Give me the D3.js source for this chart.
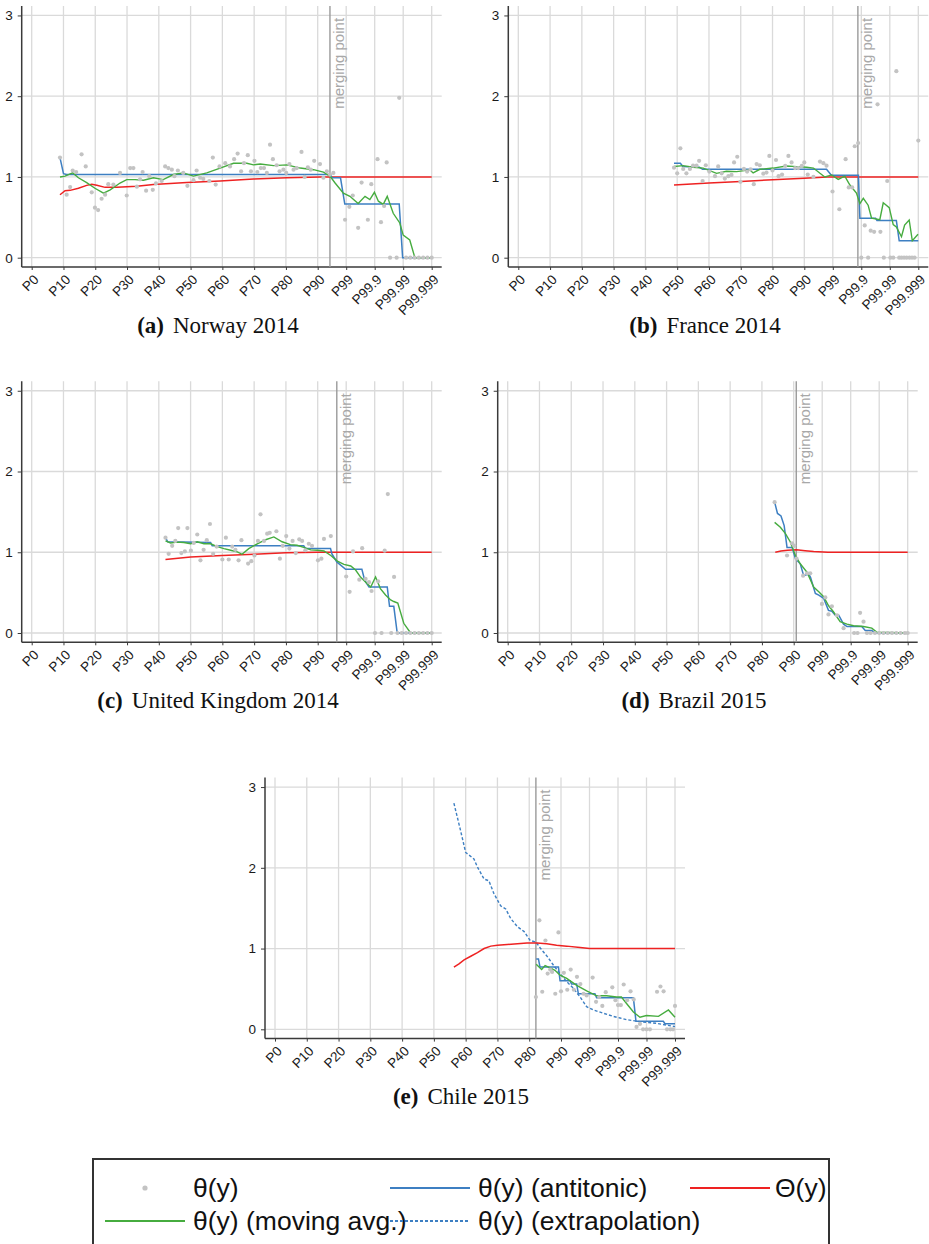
<!DOCTYPE html>
<html lang="en">
<head>
<meta charset="UTF-8">
<title>theta(y) by country</title>
<style>
  body { margin: 0; background: #fff; }
  text { font-family: "Liberation Sans", Arial, sans-serif; }
</style>
</head>
<body>
<div id="chart"></div>
<script src="https://cdn.jsdelivr.net/npm/d3@7/dist/d3.min.js"></script>
<script>
    const width = 929, height = 1244;

    // x positions are in axis units: 0 = P0 ... 9 = P90, 10 = P99, 11 = P99.9, 12 = P99.99, 13 = P99.999
    const tickLabels = ["P0", "P10", "P20", "P30", "P40", "P50", "P60", "P70", "P80", "P90",
        "P99", "P99.9", "P99.99", "P99.999"];
    const yTicks = [0, 1, 2, 3];

    // ---- Norway 2014
    const norwayDots = [[0.89,1.24],[1.10,0.78],[1.21,0.875],[1.29,1.08],[1.40,1.06],[1.57,1.28],[1.70,1.13],
        [1.89,0.81],[1.99,0.62],[2.09,0.59],[2.20,0.73],[2.31,0.78],[2.41,0.91],[2.57,0.905],[2.78,1.05],
        [2.99,0.77],[3.10,1.11],[3.20,1.11],[3.31,0.88],[3.41,0.97],[3.49,1.06],[3.60,0.83],[3.70,1.01],
        [3.81,0.84],[3.91,0.92],[4.09,0.95],[4.20,1.13],[4.30,1.11],[4.41,1.09],[4.49,1.01],[4.60,1.08],
        [4.77,1.05],[4.90,0.89],[5.09,0.96],[5.19,1.08],[5.30,0.99],[5.40,0.975],[5.59,0.95],[5.70,1.24],
        [5.79,0.905],[5.91,1.13],[6.09,1.17],[6.24,1.13],[6.37,1.22],[6.48,1.29],[6.59,1.07],[6.68,1.17],
        [6.80,1.27],[6.90,1.07],[7.01,1.20],[7.10,1.06],[7.21,1.11],[7.31,1.11],[7.40,1.05],[7.50,1.40],
        [7.59,1.22],[7.71,1.145],[7.80,1.07],[7.92,1.09],[8.01,1.05],[8.11,1.16],[8.24,1.09],[8.34,1.11],
        [8.49,1.31],[8.59,1.0],[8.69,1.12],[8.78,1.09],[8.89,1.20],[9.08,1.16],[9.20,0.99],[9.32,1.07],
        [9.43,1.03],[9.55,1.05],[9.96,0.47],[10.11,0.63],[10.23,0.77],[10.42,0.37],[10.54,0.93],
        [10.76,0.47],[10.88,0.91],[11.10,1.22],[11.22,0.44],[11.33,0.64],[11.42,1.18],[11.54,0],
        [11.77,0],[11.86,1.98],[12.1,0],[12.25,0],[12.4,0],[12.55,0],[12.7,0],[12.85,0],[13,0]];
    const norwayAvg = [[0.89,1.0],[1.05,1.01],[1.29,1.05],[1.47,0.99],[1.73,0.93],[1.99,0.86],[2.26,0.80],
        [2.47,0.84],[2.78,0.925],[2.99,0.967],[3.25,0.967],[3.52,0.96],[3.83,0.99],[4.14,0.967],[4.46,1.03],
        [4.77,1.05],[5.09,1.01],[5.51,1.05],[5.93,1.11],[6.35,1.17],[6.77,1.17],[6.98,1.15],[7.19,1.16],
        [7.61,1.14],[8.03,1.15],[8.45,1.11],[8.87,1.09],[9.20,1.06],[9.43,1.01],[9.61,0.925],[9.90,0.80],
        [10.13,0.76],[10.42,0.67],[10.66,0.76],[10.83,0.72],[10.99,0.81],[11.13,0.70],[11.30,0.66],
        [11.44,0.76],[11.65,0.55],[11.88,0.43],[12.0,0.28],[12.23,0.22],[12.41,0],[13,0]];
    const norwayAnti = [[0.89,1.24],[1.0,1.04],[1.1,1.03],[9.45,1.03],[9.5,0.99],[9.8,0.99],[9.95,0.665],
        [11.86,0.665],[11.98,0],[13,0]];
    const norwayTheta = [[0.89,0.78],[1.05,0.83],[1.21,0.834],[1.47,0.86],[1.73,0.896],[1.89,0.91],
        [2.05,0.896],[2.31,0.871],[2.68,0.871],[3.31,0.884],[3.83,0.905],[4.88,0.93],[5.93,0.95],
        [6.98,0.975],[8.03,0.99],[9.08,1.0],[13,1.0]];
    const norwayMerge = 9.43;

    // ---- France 2014
    const franceDots = [[4.9,1.115],[5.0,1.045],[5.1,1.355],[5.19,1.10],[5.29,1.045],[5.4,1.10],[5.5,1.14],
        [5.61,1.14],[5.69,1.20],[5.8,0.95],[5.9,1.145],[6.01,1.066],[6.19,1.01],[6.29,1.13],[6.4,1.045],
        [6.5,0.98],[6.61,1.01],[6.71,1.025],[6.79,1.18],[6.89,1.25],[6.99,0.94],[7.1,1.10],[7.2,1.066],
        [7.31,1.095],[7.41,0.91],[7.5,1.16],[7.6,1.145],[7.71,1.04],[7.81,1.054],[7.9,1.26],[8.0,1.08],
        [8.11,1.21],[8.19,1.01],[8.3,1.03],[8.4,1.136],[8.5,1.26],[8.6,1.18],[8.71,1.11],[8.81,1.11],
        [8.92,1.136],[9.0,1.18],[9.12,1.03],[9.32,1.0],[9.55,1.19],[9.67,1.17],[9.78,1.14],[9.99,0.82],
        [10.23,0.60],[10.45,1.22],[10.56,0.87],[10.68,0.87],[10.77,1.38],[10.89,1.42],[11.0,0],[11.12,0.40],
        [11.24,0],[11.33,0.335],[11.45,0.32],[11.57,1.90],[11.67,0.32],[11.79,0],[11.91,0.95],[12.02,0],
        [12.12,0],[12.23,2.31],[12.33,0],[12.41,0],[12.5,0],[12.59,0],[12.69,0],[12.78,0],[12.87,0],
        [13.0,1.45]];
    const franceAvg = [[4.9,1.13],[5.19,1.14],[5.5,1.12],[5.82,1.11],[6.24,1.045],[6.55,1.07],[6.87,1.066],
        [7.29,1.087],[7.39,1.05],[7.6,1.095],[8.02,1.11],[8.44,1.136],[8.76,1.128],[9.08,1.12],[9.32,1.11],
        [9.55,1.045],[9.72,1.0],[9.96,1.025],[10.19,0.97],[10.42,1.01],[10.6,0.90],[10.83,0.80],[10.95,0.67],
        [11.07,0.735],[11.24,0.65],[11.36,0.49],[11.65,0.47],[11.77,0.68],[11.98,0.62],[12.12,0.41],
        [12.23,0.38],[12.41,0.26],[12.52,0.405],[12.68,0.467],[12.79,0.21],[12.99,0.29]];
    const franceAnti = [[4.9,1.17],[5.1,1.17],[5.18,1.13],[5.7,1.12],[5.8,1.095],[9.78,1.095],[9.95,1.02],
        [10.9,1.02],[10.95,0.49],[11.5,0.49],[11.55,0.46],[12.23,0.46],[12.33,0.21],[13,0.21]];
    const franceTheta = [[4.9,0.90],[6,0.925],[7,0.945],[8,0.965],[9,0.985],[9.8,1.0],[13,1.0]];
    const franceMerge = 10.88;

    // ---- United Kingdom 2014
    const ukDots = [[4.21,1.18],[4.31,0.98],[4.42,1.08],[4.52,1.14],[4.61,1.30],[4.71,0.99],[4.82,1.01],
        [4.9,1.30],[5.01,1.02],[5.1,1.115],[5.21,1.22],[5.31,0.90],[5.41,1.03],[5.51,1.15],[5.61,1.35],
        [5.71,0.98],[5.82,1.07],[6.0,0.91],[6.11,1.18],[6.2,0.91],[6.31,1.07],[6.41,1.03],[6.51,0.90],
        [6.6,1.15],[6.81,0.86],[6.91,0.89],[7.01,0.96],[7.12,1.14],[7.2,1.47],[7.31,1.14],[7.41,1.23],
        [7.49,1.24],[7.7,1.26],[7.81,0.92],[7.9,1.08],[8.01,1.20],[8.11,1.045],[8.21,1.14],[8.31,0.99],
        [8.42,1.16],[8.51,1.14],[8.61,1.025],[8.72,1.105],[8.82,1.08],[9.01,0.90],[9.13,0.92],[9.22,1.165],
        [9.46,1.20],[10.0,0.70],[10.12,0.51],[10.24,1.01],[10.46,0.66],[10.56,1.05],[10.68,0.67],[10.8,0.63],
        [10.89,0.52],[11.01,0],[11.12,0.64],[11.24,0],[11.35,1.02],[11.46,1.72],[11.58,0],[11.68,0.695],
        [11.8,0],[11.95,0],[12.1,0],[12.25,0],[12.4,0],[12.55,0],[12.7,0],[12.85,0],[13,0]];
    const ukAvg = [[4.21,1.14],[4.37,1.115],[4.58,1.125],[4.79,1.12],[5.0,1.105],[5.21,1.13],[5.42,1.105],
        [5.63,1.105],[5.84,1.07],[6.05,1.045],[6.26,1.025],[6.47,1.005],[6.62,0.975],[6.83,1.045],
        [7.1,1.105],[7.36,1.155],[7.62,1.19],[7.88,1.13],[8.14,1.095],[8.35,1.086],[8.56,1.06],[8.78,1.03],
        [8.99,1.025],[9.22,1.016],[9.46,0.96],[9.69,0.89],[9.92,0.85],[10.16,0.83],[10.33,0.78],[10.51,0.69],
        [10.74,0.61],[10.86,0.57],[11.03,0.695],[11.2,0.55],[11.38,0.47],[11.56,0.41],[11.67,0.39],
        [11.81,0.37],[12.02,0.12],[12.14,0.06],[12.26,0],[13,0]];
    const ukAnti = [[4.21,1.18],[4.28,1.13],[5.63,1.12],[5.68,1.08],[8.56,1.08],[8.62,1.045],[9.45,1.045],
        [9.5,0.98],[9.67,0.88],[9.98,0.79],[10.55,0.79],[10.65,0.65],[10.8,0.57],[11.44,0.57],[11.52,0.33],
        [11.67,0.33],[11.79,0],[13,0]];
    const ukTheta = [[4.21,0.91],[5,0.94],[6,0.96],[7,0.975],[8,0.995],[9,1.0],[13,1.0]];
    const ukMerge = 9.67;

    // ---- Brazil 2015
    const brazilDots = [[8.4,1.62],[8.79,0.96],[8.95,1.11],[9.02,1.08],[9.1,0.92],[9.33,0.71],[9.47,0.74],
        [9.58,0.74],[9.99,0.36],[10.11,0.44],[10.22,0.23],[10.34,0.33],[10.52,0.22],[10.75,0.06],[11.12,0],
        [11.24,0],[11.33,0.25],[11.45,0.14],[11.57,0],[11.7,0],[11.85,0],[12.0,0],[12.15,0],[12.3,0],
        [12.45,0],[12.6,0],[12.75,0],[12.9,0],[13,0]];
    const brazilAvg = [[8.4,1.37],[8.58,1.31],[8.74,1.23],[8.89,1.13],[9.06,0.96],[9.23,0.857],[9.47,0.75],
        [9.7,0.57],[9.88,0.51],[10.05,0.45],[10.22,0.34],[10.4,0.26],[10.63,0.14],[10.87,0.11],[11.1,0.09],
        [11.45,0.08],[11.74,0.06],[11.92,0.01],[13,0]];
    const brazilAnti = [[8.4,1.62],[8.49,1.48],[8.6,1.45],[8.7,1.33],[8.79,1.06],[8.95,1.06],[9.06,0.92],
        [9.23,0.857],[9.35,0.71],[9.53,0.73],[9.59,0.69],[9.76,0.49],[9.88,0.47],[10.05,0.43],[10.22,0.28],
        [10.34,0.27],[10.46,0.22],[10.58,0.22],[10.75,0.11],[10.87,0.08],[11.39,0.08],[11.51,0.03],
        [11.74,0.03],[11.86,0],[13,0]];
    const brazilTheta = [[8.42,1.0],[8.6,1.015],[8.8,1.025],[9.1,1.03],[9.4,1.02],[9.7,1.008],[10.2,1.0],[13,1.0]];
    const brazilMerge = 9.09;

    // ---- Chile 2015
    const chileDots = [[8.21,0.40],[8.32,1.35],[8.41,0.465],[8.51,1.10],[8.58,0.69],[8.66,0.74],[8.72,0.71],
        [8.82,0.44],[8.92,1.20],[9.0,0.47],[9.1,0.70],[9.22,0.49],[9.34,0.74],[9.45,0.49],[9.56,0.65],
        [9.68,0.56],[9.79,0.44],[9.9,0.42],[10.11,0.64],[10.23,0.34],[10.34,0.40],[10.45,0.29],[10.57,0.46],
        [10.8,0.52],[10.91,0.36],[11.0,0.30],[11.1,0.30],[11.2,0.555],[11.32,0.36],[11.44,0.47],[11.55,0.37],
        [11.65,0.03],[11.77,0.066],[11.88,0],[12.0,0],[12.12,0],[12.37,0.465],[12.49,0.53],[12.6,0.47],
        [12.72,0],[12.84,0],[12.93,0],[13.0,0.29]];
    const chileAvg = [[8.22,0.805],[8.39,0.74],[8.5,0.79],[8.66,0.76],[8.81,0.73],[8.97,0.67],[9.2,0.63],
        [9.55,0.545],[9.9,0.475],[10.25,0.415],[10.6,0.415],[10.95,0.40],[11.12,0.40],[11.3,0.32],
        [11.54,0.215],[11.77,0.15],[12.0,0.17],[12.42,0.16],[12.77,0.24],[13,0.15]];
    const chileAnti = [[8.22,0.87],[8.29,0.87],[8.34,0.77],[8.92,0.77],[8.97,0.60],[9.32,0.60],[9.37,0.56],
        [9.55,0.56],[9.61,0.44],[10.19,0.44],[10.25,0.39],[11.54,0.39],[11.63,0.10],[12.59,0.10],[12.65,0.07],
        [13,0.07]];
    const chileTheta = [[5.63,0.77],[5.79,0.81],[5.95,0.86],[6.16,0.905],[6.37,0.95],[6.58,1.0],[6.79,1.03],
        [7.0,1.04],[7.31,1.05],[7.63,1.06],[7.93,1.07],[8.24,1.07],[8.55,1.06],[8.86,1.04],[9.2,1.03],
        [9.67,1.012],[10.0,1.0],[13,1.0]];
    const chileExtrap = [[5.63,2.80],[5.84,2.46],[6.0,2.19],[6.26,2.11],[6.37,2.01],[6.58,1.86],[6.73,1.84],
        [6.89,1.68],[7.1,1.53],[7.26,1.49],[7.42,1.37],[7.63,1.27],[7.84,1.21],[8.03,1.10],[8.21,1.08],
        [8.36,1.0],[8.57,0.90],[8.77,0.79],[8.97,0.69],[9.2,0.59],[9.43,0.51],[9.67,0.40],[9.9,0.28],
        [10.13,0.24],[10.48,0.20],[10.83,0.16],[11.07,0.14],[11.3,0.12],[11.77,0.095],[12.35,0.074],[13.0,0.033]];
    const chileMerge = 8.21;

    const legendLabels = ["θ(y)", "θ(y) (antitonic)", "Θ(y)", "θ(y) (moving avg.)", "θ(y) (extrapolation)"];

    const colors = {dot: "#c3c3c3", anti: "#3d7fc2", theta: "#ee2222", avg: "#46ac3f", grid: "#dadada", axis: "#3a3a3a"};

    const panels = [
        {tag: "(a)", name: "Norway 2014", ox: 31.7, oy: 257.7, capX: 218, capY: 333,
            dots: norwayDots, avg: norwayAvg, anti: norwayAnti, theta: norwayTheta, merge: norwayMerge},
        {tag: "(b)", name: "France 2014", ox: 518.3, oy: 257.7, capX: 705, capY: 333,
            dots: franceDots, avg: franceAvg, anti: franceAnti, theta: franceTheta, merge: franceMerge},
        {tag: "(c)", name: "United Kingdom 2014", ox: 31.7, oy: 633, capX: 218, capY: 708,
            dots: ukDots, avg: ukAvg, anti: ukAnti, theta: ukTheta, merge: ukMerge},
        {tag: "(d)", name: "Brazil 2015", ox: 507.7, oy: 633, capX: 694, capY: 708,
            dots: brazilDots, avg: brazilAvg, anti: brazilAnti, theta: brazilTheta, merge: brazilMerge},
        {tag: "(e)", name: "Chile 2015", ox: 275, oy: 1029.3, capX: 461, capY: 1104,
            dots: chileDots, avg: chileAvg, anti: chileAnti, theta: chileTheta, merge: chileMerge,
            extrap: chileExtrap}
    ];

    const svg = d3.select("#chart")
        .append("svg")
        .attr("width", width)
        .attr("height", height)
        .style("display", "block")
        .style("background-color", "#fff");

    function drawPanel(p) {
        const x = d3.scaleLinear().domain([0, 9, 13]).range([p.ox, p.ox + 286, p.ox + 400]);
        const y = d3.scaleLinear().domain([0, 3]).range([p.oy, p.oy - 242.25]);
        const left = x(0) - 10, right = x(13) + 10;
        const top = y(3) - 9.5, bottom = y(0) + 9.3;
        const ticks = d3.range(tickLabels.length);

        const g = svg.append("g").classed("panel", true);

        // grid
        g.append("g").selectAll("line").data(ticks).join("line")
            .attr("x1", d => x(d)).attr("x2", d => x(d))
            .attr("y1", top).attr("y2", bottom)
            .attr("stroke", colors.grid).attr("stroke-width", 1.3);
        g.append("g").selectAll("line").data(yTicks).join("line")
            .attr("x1", left).attr("x2", right)
            .attr("y1", d => y(d)).attr("y2", d => y(d))
            .attr("stroke", colors.grid).attr("stroke-width", 1.3);

        // axes
        const xAxis = d3.axisBottom(x).tickValues(ticks)
            .tickFormat(i => tickLabels[i]).tickSize(3).tickSizeOuter(0);
        const gx = g.append("g").attr("transform", `translate(0,${bottom})`).call(xAxis);
        gx.select(".domain").remove();
        gx.append("line").attr("x1", left).attr("x2", right)
            .attr("stroke", colors.axis).attr("stroke-width", 1.5);
        gx.selectAll(".tick line").attr("stroke", colors.axis).attr("stroke-width", 1);
        gx.selectAll(".tick text")
            .attr("x", 0).attr("y", 0).attr("dy", "0.35em")
            .attr("text-anchor", "end")
            .attr("transform", "translate(4,10) rotate(-45)")
            .style("font-size", "13.5px").attr("fill", "#1a1a1a");

        const yAxis = d3.axisLeft(y).tickValues(yTicks).tickFormat(d3.format("d"))
            .tickSize(4).tickPadding(5).tickSizeOuter(0);
        const gy = g.append("g").attr("transform", `translate(${left},0)`).call(yAxis);
        gy.select(".domain").remove();
        gy.append("line").attr("y1", top).attr("y2", bottom)
            .attr("stroke", colors.axis).attr("stroke-width", 1.5);
        gy.selectAll(".tick line").attr("stroke", colors.axis).attr("stroke-width", 1);
        gy.selectAll(".tick text").style("font-size", "13.5px").attr("fill", "#1a1a1a");

        // merging point
        const mx = x(p.merge);
        g.append("line").attr("x1", mx).attr("x2", mx).attr("y1", top).attr("y2", bottom)
            .attr("stroke", "#9a9a9a").attr("stroke-width", 1.4);
        g.append("text")
            .attr("transform", `translate(${mx + 14},${top + 12}) rotate(-90)`)
            .attr("text-anchor", "end")
            .style("font-size", "15px")
            .attr("fill", "#a8a8a8")
            .text("merging point");

        const line = d3.line().x(d => x(d[0])).y(d => y(d[1]));

        if (p.extrap) {
            g.append("path").attr("d", line(p.extrap))
                .attr("fill", "none").attr("stroke", colors.anti)
                .attr("stroke-width", 1.4).attr("stroke-dasharray", "3,2");
        }
        g.append("path").attr("d", line(p.theta))
            .attr("fill", "none").attr("stroke", colors.theta).attr("stroke-width", 1.5);
        g.append("path").attr("d", line(p.anti))
            .attr("fill", "none").attr("stroke", colors.anti).attr("stroke-width", 1.5);
        g.append("path").attr("d", line(p.avg))
            .attr("fill", "none").attr("stroke", colors.avg).attr("stroke-width", 1.4);

        g.append("g").selectAll("circle").data(p.dots).join("circle")
            .attr("cx", d => x(d[0])).attr("cy", d => y(d[1]))
            .attr("r", 2.1).attr("fill", colors.dot);

        // caption
        const cap = g.append("text")
            .attr("x", p.capX).attr("y", p.capY)
            .attr("text-anchor", "middle")
            .style("font-family", "'Liberation Serif', 'Times New Roman', serif")
            .style("font-size", "23px").attr("fill", "#111");
        cap.append("tspan").style("font-weight", "bold").text(p.tag);
        cap.append("tspan").attr("dx", 9).text(p.name);
    }

    panels.forEach(drawPanel);

    // legend
    const legend = svg.append("g").classed("legend", true);
    legend.append("rect")
        .attr("x", 93).attr("y", 1159).attr("width", 736).attr("height", 100)
        .attr("fill", "#fff").attr("stroke", "#333").attr("stroke-width", 2);

    const legendItems = [
        {label: legendLabels[0], kind: "dot", x: 105, y: 1188},
        {label: legendLabels[1], kind: "anti", x: 390, y: 1188},
        {label: legendLabels[2], kind: "theta", x: 690, y: 1188},
        {label: legendLabels[3], kind: "avg", x: 105, y: 1221},
        {label: legendLabels[4], kind: "extrap", x: 390, y: 1221}
    ];
    const items = legend.selectAll("g.item").data(legendItems).join("g")
        .classed("item", true)
        .attr("transform", d => `translate(${d.x},${d.y})`);
    items.filter(d => d.kind === "dot").append("circle")
        .attr("cx", 40).attr("cy", 0).attr("r", 2.6).attr("fill", colors.dot);
    items.filter(d => d.kind !== "dot").append("line")
        .attr("x1", 0).attr("x2", 80).attr("y1", 0).attr("y2", 0)
        .attr("stroke", d => d.kind === "theta" ? colors.theta : d.kind === "avg" ? colors.avg : colors.anti)
        .attr("stroke-width", 2)
        .attr("stroke-dasharray", d => d.kind === "extrap" ? "3,2" : null);
    items.append("text")
        .attr("x", d => d.kind === "theta" ? 85 : 88)
        .attr("y", 0).attr("dy", "0.35em")
        .style("font-size", "26.5px").attr("fill", "#111")
        .text(d => d.label);
</script>
</body>
</html>
